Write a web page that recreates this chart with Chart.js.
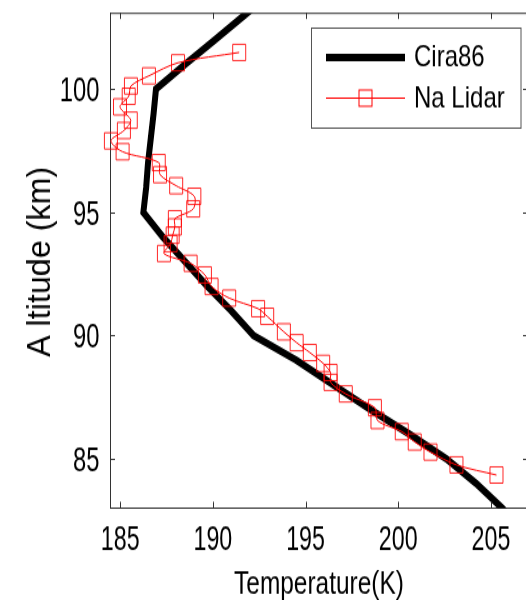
<!DOCTYPE html>
<html>
<head>
<meta charset="utf-8">
<script src="https://cdn.jsdelivr.net/npm/chart.js@4.4.1/dist/chart.umd.min.js"></script>
<style>
  html, body { margin: 0; padding: 0; background: #fff; width: 526px; height: 600px; overflow: hidden; }
  #page { width: 526px; height: 600px; overflow: hidden; position: relative; }
  /* the reference is stretched vertically, so draw flat and stretch */
  #wrap { position: absolute; left: 0; top: 0; width: 540px; height: 480px; transform: scaleY(1.25); transform-origin: 0 0; }
</style>
</head>
<body>
<div id="page"><div id="wrap"><canvas id="chart" width="540" height="480"></canvas></div></div>
<script>
// data
const CIRA_ALT  = [103.5, 103, 102, 101, 100, 99, 98, 97, 96, 95, 94, 93, 92, 91, 90, 89, 88, 87, 86, 85, 84, 83, 82.5];
const CIRA_TEMP = [192.5, 191.7, 190.1, 188.5, 186.93, 186.8, 186.65, 186.5, 186.4, 186.25, 187.3, 188.5, 189.7, 191.0, 192.2, 194.5, 196.5, 198.5, 200.6, 202.6, 204.2, 205.6, 206.2];

const LIDAR_ALT  = [101.49, 101.07, 100.54, 100.13, 99.71, 99.28, 98.74, 98.32, 97.9, 97.46, 97.02, 96.53, 96.08, 95.65, 95.14,
                    94.74, 94.41, 94.07, 93.73, 93.33, 92.93, 92.46, 91.99, 91.52, 91.09, 90.78, 90.15, 89.71, 89.31, 88.87,
                    88.5, 88.1, 87.63, 87.07, 86.55, 86.1, 85.68, 85.27, 84.75, 84.34];
const LIDAR_TEMP = [191.42, 188.12, 186.55, 185.58, 185.46, 184.99, 185.57, 185.2, 184.5, 185.13, 187.08, 187.15, 188.02, 189.0, 188.94,
                    187.95, 187.95, 187.83, 187.72, 187.36, 188.8, 189.57, 189.93, 190.88, 192.44, 192.93, 193.83, 194.52, 195.23, 195.95,
                    196.35, 196.35, 197.17, 198.74, 198.88, 200.19, 200.89, 201.74, 203.14, 205.3];

const X_TICKS = [185, 190, 195, 200, 205];
const Y_TICKS = [85, 90, 95, 100];
const X_TITLE = 'Temperature(K)';
const Y_TITLE = 'A ltitude (km)';

const AXIS = '#333';
const SANS = "'Liberation Sans', Arial, sans-serif";

const toPts = (xs, ys) => xs.map((x, i) => ({ x, y: ys[i] }));

// narrow text: squeeze along the text direction
function narrowText(ctx, text, x, y, opts) {
  ctx.save();
  ctx.translate(x, y);
  if (opts.rotate) ctx.rotate(opts.rotate);
  ctx.scale(opts.squeeze, 1);
  ctx.font = opts.size + 'px ' + SANS;
  ctx.fillStyle = '#000';
  ctx.textAlign = opts.align || 'center';
  ctx.textBaseline = 'alphabetic';
  ctx.fillText(text, 0, 0);
  ctx.restore();
}

// inward ticks, top border, labels and the legend box
const frame = {
  id: 'frame',
  afterDatasetsDraw(chart) {
    const { ctx, chartArea: a, scales: { x, y } } = chart;
    ctx.save();
    ctx.strokeStyle = AXIS;
    ctx.lineWidth = 1;
    ctx.beginPath();
    ctx.moveTo(a.left, a.top + 0.5);
    ctx.lineTo(a.right, a.top + 0.5);
    X_TICKS.forEach(v => {
      const px = Math.round(x.getPixelForValue(v)) + 0.5;
      ctx.moveTo(px, a.bottom); ctx.lineTo(px, a.bottom - 5);
      ctx.moveTo(px, a.top);    ctx.lineTo(px, a.top + 5);
    });
    Y_TICKS.forEach(v => {
      const py = Math.round(y.getPixelForValue(v)) + 0.5;
      ctx.moveTo(a.left, py);  ctx.lineTo(a.left + 5, py);
      ctx.moveTo(a.right, py); ctx.lineTo(a.right - 5, py);
    });
    ctx.stroke();
    ctx.restore();

    X_TICKS.forEach(v => narrowText(ctx, String(v), x.getPixelForValue(v), a.bottom + 33.5, { size: 28, squeeze: 0.83 }));
    Y_TICKS.forEach(v => narrowText(ctx, String(v), a.left - 10.5, y.getPixelForValue(v) + 10, { size: 28, squeeze: 0.85, align: 'right' }));
    narrowText(ctx, X_TITLE, (a.left + a.right) / 2, 474.5, { size: 26, squeeze: 0.94 });
    narrowText(ctx, Y_TITLE, 50, 209.5, { size: 34, squeeze: 0.76, rotate: -Math.PI / 2 });
  },
  afterDraw(chart) {
    const ctx = chart.ctx;
    const bx = 311.5, by = 22.5, bw = 209.5, bh = 80;
    ctx.save();
    ctx.fillStyle = '#fff';
    ctx.fillRect(bx, by, bw, bh);
    ctx.strokeStyle = '#555';
    ctx.lineWidth = 1;
    ctx.strokeRect(bx, by, bw, bh);

    // Cira86
    ctx.strokeStyle = '#000';
    ctx.lineWidth = 6;
    ctx.beginPath(); ctx.moveTo(326, 46); ctx.lineTo(405, 46); ctx.stroke();

    // Na Lidar
    ctx.strokeStyle = 'red';
    ctx.lineWidth = 1;
    ctx.beginPath(); ctx.moveTo(326, 78.5); ctx.lineTo(405, 78.5); ctx.stroke();
    ctx.strokeRect(359, 72, 13, 13);

    ctx.fillStyle = '#000';
    ctx.font = '24px ' + SANS;
    ctx.textBaseline = 'middle';
    ctx.fillText('Cira86', 414, 46);
    ctx.fillText('Na Lidar', 414, 79);
    ctx.restore();
  }
};

new Chart(document.getElementById('chart'), {
  type: 'line',
  data: {
    datasets: [
      {
        label: 'Na Lidar',
        data: toPts(LIDAR_TEMP, LIDAR_ALT),
        borderColor: 'red',
        borderWidth: 1,
        tension: 0.3,
        pointStyle: 'rect',
        pointRadius: 9.2,
        pointBorderWidth: 1,
        pointBorderColor: 'rgba(255,0,0,0.85)',
        pointBackgroundColor: 'rgba(0,0,0,0)',
        clip: false,
        order: 1
      },
      {
        label: 'Cira86',
        data: toPts(CIRA_TEMP, CIRA_ALT),
        borderColor: '#000',
        borderWidth: 6,
        borderJoinStyle: 'miter',
        pointRadius: 0,
        tension: 0,
        clip: 0,
        order: 2
      }
    ]
  },
  options: {
    responsive: false,
    animation: false,
    layout: { padding: { top: 6.4, right: 12, left: 0, bottom: 0 } },
    plugins: { legend: { display: false }, tooltip: { enabled: false } },
    scales: {
      x: {
        type: 'linear',
        min: 184.45,
        max: 207,
        afterBuildTicks: s => { s.ticks = X_TICKS.map(v => ({ value: v })); },
        afterFit: s => { s.height = 73.6; s.paddingLeft = 0; s.paddingRight = 0; },
        grid: { display: false, drawTicks: false },
        border: { display: true, color: AXIS, width: 1 },
        ticks: { display: false }
      },
      y: {
        type: 'linear',
        min: 83,
        max: 103.1,
        afterBuildTicks: s => { s.ticks = Y_TICKS.map(v => ({ value: v })); },
        afterFit: s => { s.width = 110; s.paddingTop = 0; s.paddingBottom = 0; },
        grid: { display: false, drawTicks: false },
        border: { display: true, color: AXIS, width: 1 },
        ticks: { display: false }
      }
    }
  },
  plugins: [frame]
});
</script>
</body>
</html>
